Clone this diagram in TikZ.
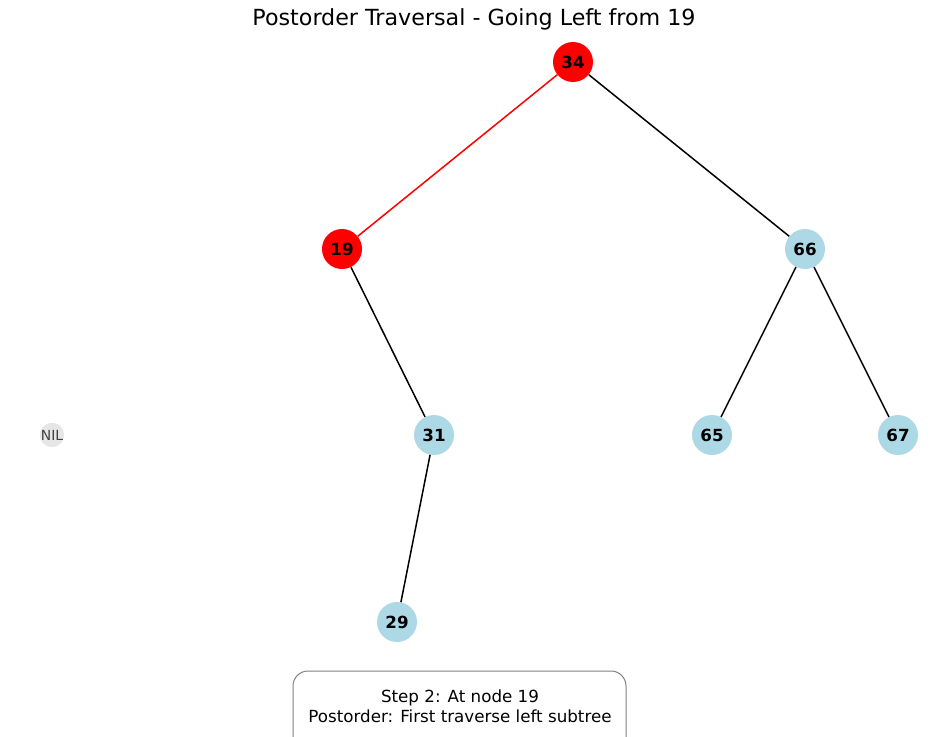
\documentclass[tikz,border=0pt]{standalone}
\usepackage{fontspec}
\setmainfont{DejaVu Sans}
\usetikzlibrary{positioning}

\definecolor{nodeblue}{HTML}{ADD8E6}
\definecolor{nilgray}{HTML}{E6E6E6}

\begin{document}
\begin{tikzpicture}[x=1pt,y=-1pt,
  bst/.style={circle,fill=nodeblue,minimum size=40pt,inner sep=0pt,font=\fontsize{16.7}{18}\selectfont\bfseries},
  visited/.style={bst,fill=red},
  nil/.style={circle,fill=nilgray,minimum size=24pt,inner sep=0pt,text=black!75,font=\fontsize{13.9}{15}\selectfont},
  link/.style={line width=1.5pt,black},
  redlink/.style={link,red}]

\useasboundingbox (0,0) rectangle (950,736);

\node (title) at (474,19) {\fontsize{22.2}{24}\selectfont Postorder Traversal - Going Left from 19};

\node[visited] (N34) at (573,62)  {34};
\node[visited] (N19) at (342,249) {19};
\node[bst]     (N66) at (805,249) {66};
\node[nil]     (NIL) at (52,435)  {NIL};
\node[bst]     (N31) at (434,435) {31};
\node[bst]     (N65) at (712,435) {65};
\node[bst]     (N67) at (898,435) {67};
\node[bst]     (N29) at (397,622) {29};

\draw[redlink] (N34) -- (N19);
\draw[link]    (N34) -- (N66);
\draw[link]    (N19) -- (N31);
\draw[link]    (N66) -- (N65);
\draw[link]    (N66) -- (N67);
\draw[link]    (N31) -- (N29);

\draw[black!50,line width=1pt,rounded corners=15pt,fill=white] (293,671) rectangle (626,760);
\node[align=center,font=\fontsize{16.7}{20}\selectfont] (step) at (460,706)
  {Step 2: At node 19\\Postorder: First traverse left subtree};

\end{tikzpicture}
\end{document}
